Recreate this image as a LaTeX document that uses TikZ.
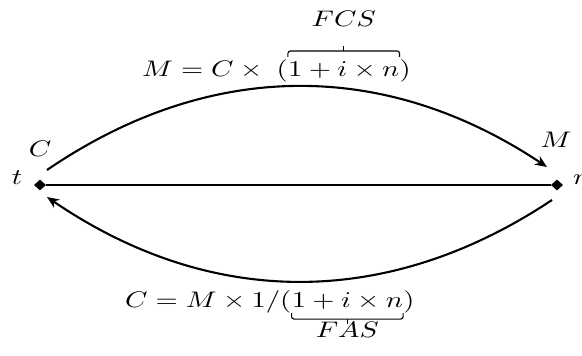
\documentclass[tikz,border=0pt]{standalone}
\usepackage{graphicx}
\usetikzlibrary{arrows.meta,shapes.geometric,calc}
\newcommand\widetxt[1]{\scalebox{2.86}[2.25]{#1}}
\begin{document}
\begin{tikzpicture}[x=1pt,y=1pt,
  lbl/.style={inner sep=0pt},
  dot/.style={diamond, fill=black, inner sep=0pt, minimum width=12pt, minimum height=11pt},
  arc/.style={line width=2.1pt, -{Stealth[length=12pt,width=10pt]}},
  brc/.style={line width=1.1pt, rounded corners=2.5pt},
  tip/.style={line width=1.1pt}]
\useasboundingbox (0,0) rectangle (582,356);
\node[dot] (L) at (40,171) {};
\node[dot] (R) at (557,171) {};
\draw[line width=2.1pt] (L) -- (R);
\coordinate (ua) at (47,186);
\coordinate (ub) at (547,189);
\draw[arc] (ua) to[bend left=34] (ub);
\coordinate (la) at (552,156);
\coordinate (lb) at (47,159);
\draw[arc] (la) to[bend left=34] (lb);
\node[lbl, anchor=base] (tl) at (17,171) {\widetxt{$t$}};
\node[lbl, anchor=base west] (nl) at (573,171) {\widetxt{$n$}};
\node[lbl, anchor=base] (cl) at (40,199) {\widetxt{$C$}};
\node[lbl, anchor=base] (ml) at (556,208) {\widetxt{$M$}};
\node[lbl, anchor=base west] (f1) at (142,279) {\widetxt{$M=C\times\;($}};
\node[lbl, anchor=base west] (f2) at (f1.base east) {\widetxt{$1+i\times n$}};
\node[lbl, anchor=base west] (f3) at (f2.base east) {\widetxt{$)$}};
\coordinate (ta) at ([yshift=5pt]f2.north west);
\coordinate (tb) at ([yshift=5pt]f2.north east);
\coordinate (tm) at ($(ta)!0.5!(tb)+(0,6)$);
\draw[brc] (ta) -- ++(0,6) -| (tb);
\draw[tip] (tm) -- ++(0,5);
\node[lbl, anchor=base] (fcs) at ([yshift=35pt]f2.north) {\widetxt{$FCS$}};
\node[lbl, anchor=base west] (g1) at (125,48) {\widetxt{$C=M\times 1/($}};
\node[lbl, anchor=base west] (g2) at (g1.base east) {\widetxt{$1+i\times n$}};
\node[lbl, anchor=base west] (g3) at (g2.base east) {\widetxt{$)$}};
\coordinate (ba) at ([yshift=-3pt]g2.south west);
\coordinate (bb) at ([yshift=-3pt]g2.south east);
\coordinate (bm) at ($(ba)!0.5!(bb)+(0,-6)$);
\draw[brc] (ba) -- ++(0,-6) -| (bb);
\draw[tip] (bm) -- ++(0,-5);
\node[lbl, anchor=base] (fas) at ([yshift=-27pt]g2.south) {\widetxt{$FAS$}};
\end{tikzpicture}
\end{document}
